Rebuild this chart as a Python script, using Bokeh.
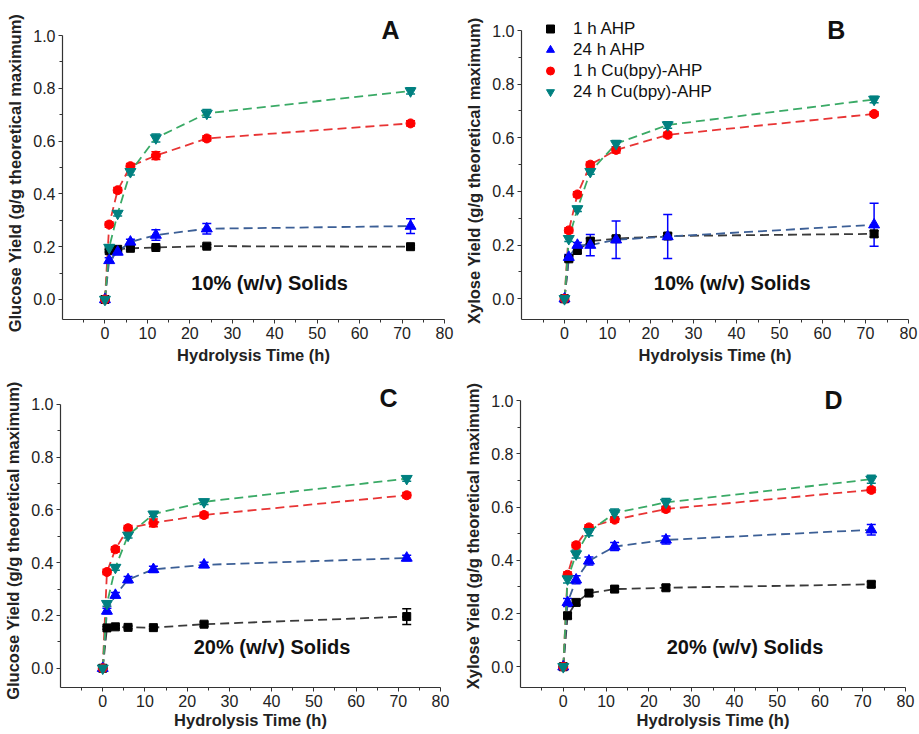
from bokeh.plotting import figure
from bokeh.layouts import row, column
from bokeh.models import (Label, Legend, LegendItem, Whisker, ColumnDataSource,
                          FixedTicker, TeeHead, Range1d, NumeralTickFormatter)
from bokeh.embed import file_html
from bokeh.resources import INLINE

# ---------------- data ----------------
hours = [0, 1, 3, 6, 12, 24, 72]
series_names = ["1 h AHP", "24 h AHP", "1 h Cu(bpy)-AHP", "24 h Cu(bpy)-AHP"]

# Panel A: glucose, 10% solids
a_ahp1 = [0, 0.185, 0.190, 0.194, 0.197, 0.202, 0.200]
a_ahp24 = [0, 0.148, 0.180, 0.218, 0.244, 0.268, 0.278]
a_cu1 = [0, 0.284, 0.414, 0.505, 0.545, 0.610, 0.667]
a_cu24 = [0, 0.197, 0.326, 0.484, 0.612, 0.705, 0.790]
a_ahp1_err = [0, 0.005, 0.005, 0.005, 0.005, 0.006, 0.005]
a_ahp24_err = [0, 0.010, 0.010, 0.010, 0.020, 0.020, 0.028]
a_cu1_err = [0, 0.010, 0.010, 0.010, 0.015, 0.010, 0.010]
a_cu24_err = [0, 0.010, 0.010, 0.012, 0.015, 0.015, 0.012]

# Panel B: xylose, 10% solids
b_ahp1 = [0, 0.149, 0.180, 0.215, 0.224, 0.234, 0.242]
b_ahp24 = [0, 0.155, 0.200, 0.200, 0.220, 0.232, 0.276]
b_cu1 = [0, 0.255, 0.389, 0.500, 0.555, 0.611, 0.689]
b_cu24 = [0, 0.224, 0.335, 0.474, 0.578, 0.648, 0.743]
b_ahp1_err = [0, 0.008, 0.010, 0.010, 0.010, 0.010, 0.012]
b_ahp24_err = [0, 0.010, 0.010, 0.040, 0.070, 0.082, 0.080]
b_cu1_err = [0, 0.010, 0.010, 0.010, 0.012, 0.010, 0.008]
b_cu24_err = [0, 0.010, 0.010, 0.010, 0.012, 0.012, 0.012]

# Panel C: glucose, 20% solids
c_ahp1 = [0, 0.153, 0.157, 0.155, 0.154, 0.167, 0.196]
c_ahp24 = [0, 0.217, 0.277, 0.336, 0.375, 0.392, 0.418]
c_cu1 = [0, 0.365, 0.451, 0.531, 0.551, 0.581, 0.656]
c_cu24 = [0, 0.245, 0.382, 0.504, 0.584, 0.631, 0.719]
c_ahp1_err = [0, 0.005, 0.005, 0.005, 0.005, 0.008, 0.030]
c_ahp24_err = [0, 0.010, 0.010, 0.012, 0.012, 0.010, 0.010]
c_cu1_err = [0, 0.010, 0.010, 0.010, 0.015, 0.010, 0.010]
c_cu24_err = [0, 0.010, 0.010, 0.010, 0.010, 0.010, 0.010]

# Panel D: xylose, 20% solids
d_ahp1 = [0, 0.192, 0.242, 0.277, 0.292, 0.297, 0.310]
d_ahp24 = [0, 0.242, 0.327, 0.398, 0.452, 0.477, 0.515]
d_cu1 = [0, 0.346, 0.457, 0.524, 0.553, 0.593, 0.665]
d_cu24 = [0, 0.330, 0.424, 0.508, 0.578, 0.618, 0.705]
d_ahp1_err = [0, 0.010, 0.010, 0.010, 0.010, 0.010, 0.010]
d_ahp24_err = [0, 0.015, 0.015, 0.015, 0.015, 0.015, 0.020]
d_cu1_err = [0, 0.010, 0.010, 0.010, 0.010, 0.010, 0.010]
d_cu24_err = [0, 0.015, 0.015, 0.015, 0.015, 0.015, 0.015]

x_ticks = [0, 10, 20, 30, 40, 50, 60, 70, 80]
x_minor = [-5, 5, 15, 25, 35, 45, 55, 65, 75]
y_ticks = [0.0, 0.2, 0.4, 0.6, 0.8, 1.0]
y_minor = [0.1, 0.3, 0.5, 0.7, 0.9]

# ---------------- style ----------------
FONT = "Liberation Sans"
NBSP = "\u00a0"
marker_kind = ["square", "triangle", "circle", "inverted_triangle"]
marker_color = ["#000000", "#0000ff", "#ff0000", "#008080"]
marker_size = [8, 11, 9, 11]
dash_color = ["#3a3a3a", "#3c5f96", "#e83434", "#3aaa66"]


def make_panel(values, errors, ylabel, ypad, letter, letter_pos, solids, solids_pos,
               width, height, borders, y_range, xlabel_standoff, legend_loc=None):
    p = figure(width=width, height=height, output_backend="svg",
               toolbar_location=None,
               x_range=Range1d(-10, 80), y_range=Range1d(*y_range),
               min_border_left=borders[0], min_border_right=borders[1],
               min_border_top=borders[2], min_border_bottom=borders[3])
    p.outline_line_color = None
    p.xgrid.visible = False
    p.ygrid.visible = False
    p.background_fill_color = "white"
    p.border_fill_color = "white"

    for ax in (p.xaxis[0], p.yaxis[0]):
        ax.axis_line_color = "#333333"
        ax.axis_line_width = 1.2
        ax.major_tick_line_color = "#333333"
        ax.minor_tick_line_color = "#333333"
        ax.major_tick_out = 4
        ax.major_tick_in = 0
        ax.minor_tick_out = 3
        ax.minor_tick_in = 0
        ax.major_label_text_font = FONT
        ax.major_label_text_font_size = "16px"
        ax.major_label_text_color = "#222222"
        ax.axis_label_text_font = FONT
        ax.axis_label_text_font_size = "16.5px"
        ax.axis_label_text_font_style = "bold"
        ax.axis_label_text_color = "#222222"
        ax.major_label_standoff = 3
    p.xaxis.ticker = FixedTicker(ticks=x_ticks, minor_ticks=x_minor)
    p.yaxis.ticker = FixedTicker(ticks=y_ticks, minor_ticks=y_minor)
    p.yaxis.formatter = NumeralTickFormatter(format="0.0")
    p.yaxis.bounds = (y_range[0], 1.0)
    p.xaxis.axis_label = "Hydrolysis Time (h)"
    p.yaxis.axis_label = ylabel + NBSP * ypad
    p.xaxis.axis_label_standoff = xlabel_standoff
    p.yaxis.axis_label_standoff = 6

    renderers = []
    for i in range(4):
        p.line(hours, values[i], line_color=dash_color[i], line_width=1.8,
               line_dash="9 5")
    for i in range(4):
        up = [v + e for v, e in zip(values[i], errors[i])]
        lo = [v - e for v, e in zip(values[i], errors[i])]
        src = ColumnDataSource(dict(x=hours, y=values[i], upper=up, lower=lo))
        w = Whisker(source=src, base="x", upper="upper", lower="lower",
                    line_color=marker_color[i], line_width=1.5,
                    upper_head=TeeHead(size=9, line_color=marker_color[i], line_width=1.5),
                    lower_head=TeeHead(size=9, line_color=marker_color[i], line_width=1.5))
        p.add_layout(w)
        r = p.scatter("x", "y", source=src, marker=marker_kind[i],
                      size=marker_size[i], fill_color=marker_color[i],
                      line_color=marker_color[i])
        renderers.append(r)

    p.add_layout(Label(x=letter_pos[0], y=letter_pos[1], text=letter,
                       text_font=FONT, text_font_size="25px",
                       text_font_style="bold", text_align="center",
                       text_baseline="middle", text_color="#111111"))
    p.add_layout(Label(x=solids_pos[0], y=solids_pos[1], text=solids,
                       text_font=FONT, text_font_size="20px",
                       text_font_style="bold", text_align="center",
                       text_baseline="middle", text_color="#111111"))

    if legend_loc is not None:
        items = [LegendItem(label=series_names[i], renderers=[renderers[i]])
                 for i in range(4)]
        leg = Legend(items=items, location=legend_loc, orientation="vertical",
                     glyph_width=20, glyph_height=21, label_height=21,
                     label_standoff=13, spacing=0, padding=0, margin=0,
                     label_text_font=FONT, label_text_font_size="17px",
                     label_text_color="#111111",
                     background_fill_alpha=0, border_line_color=None)
        p.add_layout(leg)
    return p


pA = make_panel([a_ahp1, a_ahp24, a_cu1, a_cu24],
                [a_ahp1_err, a_ahp24_err, a_cu1_err, a_cu24_err],
                "Glucose Yield (g/g theoretical maximum)", 2, "A", (67.3, 1.0227),
                "10% (w/v) Solids", (38.8, 0.064),
                460, 367, (62, 16, 17, 48), (-0.0758, 1.0682), 4)
pB = make_panel([b_ahp1, b_ahp24, b_cu1, b_cu24],
                [b_ahp1_err, b_ahp24_err, b_cu1_err, b_cu24_err],
                "Xylose Yield (g/g theoretical maximum)", 1, "B", (63.2, 1.0037),
                "10% (w/v) Solids", (39.0, 0.059),
                458, 367, (61, 10, 17, 48), (-0.0772, 1.0485), 4,
                legend_loc=(19, 217))
pC = make_panel([c_ahp1, c_ahp24, c_cu1, c_cu24],
                [c_ahp1_err, c_ahp24_err, c_cu1_err, c_cu24_err],
                "Glucose Yield (g/g theoretical maximum)", 2, "C", (67.7, 1.0228),
                "20% (w/v) Solids", (40.1, 0.080),
                460, 366, (60, 20, 17, 46), (-0.073, 1.0758), 1)
pD = make_panel([d_ahp1, d_ahp24, d_cu1, d_cu24],
                [d_ahp1_err, d_ahp24_err, d_cu1_err, d_cu24_err],
                "Xylose Yield (g/g theoretical maximum)", 0, "D", (63.2, 1.003),
                "20% (w/v) Solids", (42.5, 0.073),
                458, 366, (60, 13, 17, 46), (-0.078, 1.0613), 1)

layout = column(row(pA, pB), row(pC, pD))

open("out.html", "w").write(file_html(layout, INLINE))
